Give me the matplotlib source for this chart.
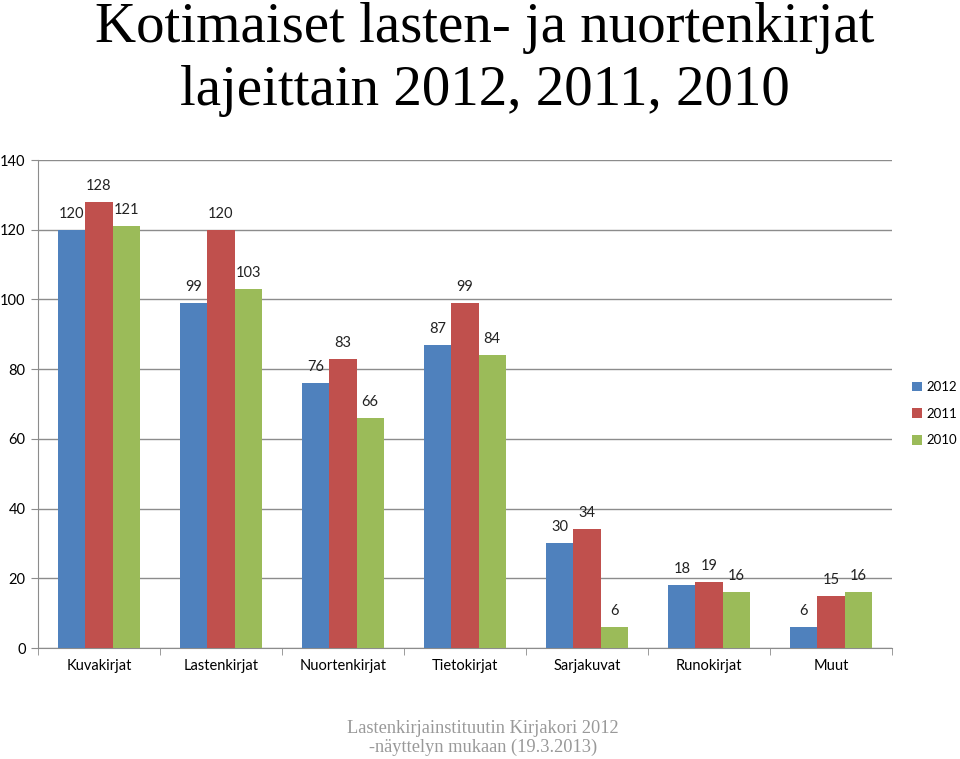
import matplotlib
matplotlib.use("Agg")
import matplotlib.pyplot as plt
import numpy as np

categories = ['Kuvakirjat', 'Lastenkirjat', 'Nuortenkirjat', 'Tietokirjat',
              'Sarjakuvat', 'Runokirjat', 'Muut']
years = ['2012', '2011', '2010']
vals_2012 = [120, 99, 76, 87, 30, 18, 6]
vals_2011 = [128, 120, 83, 99, 34, 19, 15]
vals_2010 = [121, 103, 66, 84, 6, 16, 16]

colors = ['#4F81BD', '#C0504D', '#9BBB59']
plt.rcParams['font.family'] = ['Lato', 'DejaVu Sans']

fig = plt.figure(figsize=(9.6, 7.59), dpi=100)
ax = fig.add_axes([38/960, 1 - 648/759, 854/960, 488/759])

x = np.arange(len(categories))
w = 0.222
for i, (vals, yr) in enumerate(zip([vals_2012, vals_2011, vals_2010], years)):
    pos = x + (i - 1) * w
    bars = ax.bar(pos, vals, w, color=colors[i], label=yr, zorder=3)
    for b, v in zip(bars, vals):
        ax.annotate(str(v), (b.get_x() + b.get_width() / 2, v),
                    xytext=(0, 16), textcoords='offset pixels',
                    ha='center', va='center', fontsize=10.5, color='#222222')

ax.set_xlim(-0.5, len(categories) - 0.5)
ax.set_ylim(0, 140)
ax.set_yticks(range(0, 141, 20))
ax.yaxis.grid(True, color='#8c8c8c', linewidth=1, zorder=0)
ax.set_xticks(x)
ax.set_xticklabels(categories, fontsize=10.5)
ax.set_xticks(np.arange(-0.5, len(categories), 1), minor=True)
ax.tick_params(axis='x', which='major', length=0, pad=8)
ax.tick_params(axis='x', which='minor', length=5, color='#8c8c8c')
ax.tick_params(axis='y', length=5, color='#8c8c8c', labelsize=10.5, pad=4)
for s in ['top', 'right']:
    ax.spines[s].set_visible(False)
for s in ['left', 'bottom']:
    ax.spines[s].set_color('#8c8c8c')

ax.legend(loc='center left', bbox_to_anchor=(1.024, 0.48), frameon=False,
          fontsize=9.5, handlelength=0.75, handleheight=0.75, borderpad=0,
          borderaxespad=0, handletextpad=0.3, labelspacing=1.1)

fig.text(0.505, 0.963, 'Kotimaiset lasten- ja nuortenkirjat', ha='center',
         va='center', fontsize=41, family='Liberation Serif')
fig.text(0.505, 0.880, 'lajeittain 2012, 2011, 2010', ha='center',
         va='center', fontsize=41, family='Liberation Serif')
fig.text(0.503, 0.028, 'Lastenkirjainstituutin Kirjakori 2012\n-näyttelyn mukaan (19.3.2013)',
         ha='center', va='center', fontsize=13.2, color='#999999',
         family='Liberation Serif', linespacing=1.15)

plt.savefig('out.png', dpi=100)
